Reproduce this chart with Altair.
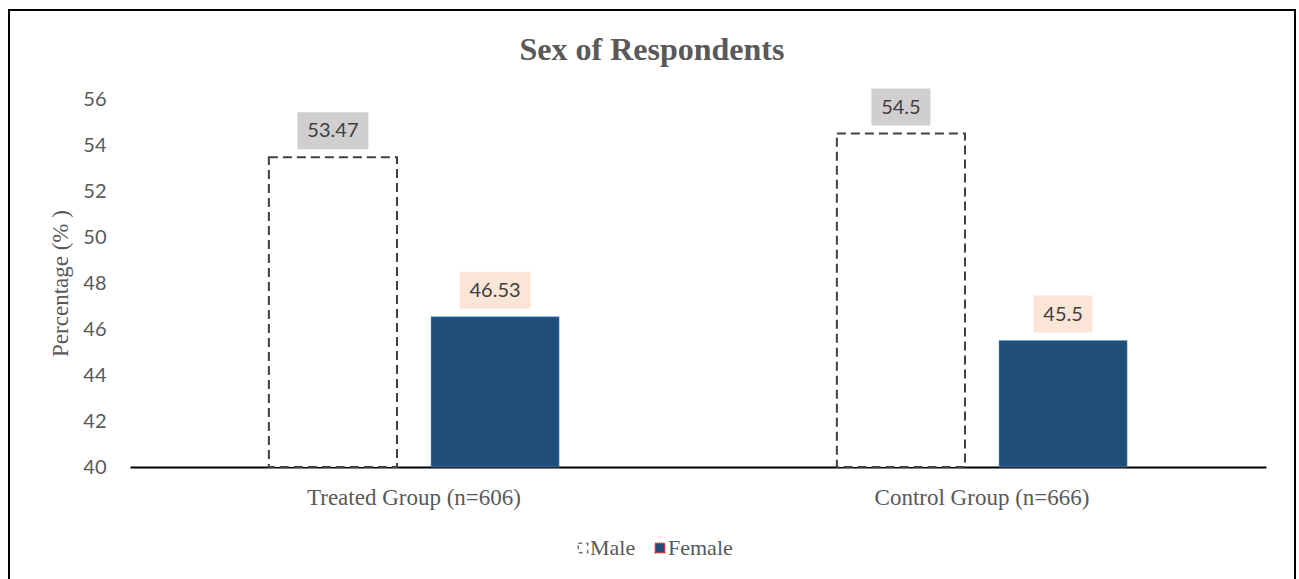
import altair as alt
import pandas as pd

groups = ["Treated Group (n=606)", "Control Group (n=666)"]
sexes = ["Male", "Female"]
male_values = [53.47, 54.5]
female_values = [46.53, 45.5]
y_ticks = [40, 42, 44, 46, 48, 50, 52, 54, 56]

rows = []
for g, m, f in zip(groups, male_values, female_values):
    rows.append({"group": g, "sex": "Male", "value": m, "label": f"{m:g}"})
    rows.append({"group": g, "sex": "Female", "value": f, "label": f"{f:g}"})
df = pd.DataFrame(rows)

W, H = 1136, 368
TXT = "#595959"
SERIF = "Liberation Serif"
SANS = "Lato"

xenc = alt.X("group:N", sort=groups,
             scale=alt.Scale(paddingInner=0.489, paddingOuter=0.2445),
             axis=alt.Axis(title=None, labelAngle=0, ticks=False, domain=True,
                           domainColor="black", domainWidth=2, labelLimit=600,
                           labelFont=SERIF, labelFontSize=23, labelColor=TXT,
                           labelPadding=19))
xoff = alt.XOffset("sex:N", sort=sexes, scale=alt.Scale(paddingInner=0.21, paddingOuter=0))
yenc = alt.Y("value:Q", scale=alt.Scale(domain=[40, 56], zero=False, nice=False),
             axis=alt.Axis(title="Percentage (% )", values=y_ticks, grid=False,
                           domain=False, ticks=False, labelFont=SANS,
                           labelFontSize=20, labelColor=TXT, labelPadding=24,
                           titleFont=SERIF, titleFontSize=23, titleFontWeight="normal",
                           titleColor=TXT, titlePadding=10))

base = alt.Chart(df)

male = base.transform_filter(alt.datum.sex == "Male").mark_bar(
    fill="white", stroke="#404040", strokeWidth=2, strokeDash=[9, 5]
).encode(x=xenc, xOffset=xoff, y=yenc, y2=alt.datum(40))

female = base.transform_filter(alt.datum.sex == "Female").mark_bar(
    fill="#1f4e79", stroke="#5b9bd5", strokeWidth=1, strokeDash=[1, 1]
).encode(x=xenc, xOffset=xoff, y=yenc, y2=alt.datum(40))

boxes = base.transform_calculate(
    boxw="length(datum.label) * 12 + 11"
).mark_bar(yOffset=-45, y2Offset=-8).encode(
    x=xenc, xOffset=xoff, y=yenc, y2="value:Q",
    size=alt.Size("boxw:Q", scale=None, legend=None),
    fill=alt.Fill("sex:N", scale=alt.Scale(domain=sexes, range=["#d0cece", "#fbe5d6"]), legend=None),
)

labels = base.mark_text(yOffset=-26, baseline="middle", align="center",
                        font=SANS, fontSize=20, color="#404040").encode(
    x=xenc, xOffset=xoff, y=yenc, text="label:N")

one = pd.DataFrame({"k": [0]})
single = alt.Chart(one)

title = single.mark_text(text="Sex of Respondents", font=SERIF, fontSize=32,
                         fontWeight="bold", color=TXT, baseline="middle",
                         align="center").encode(x=alt.value(522), y=alt.value(-49))

frame = single.mark_rect(fillOpacity=0, stroke="black", strokeWidth=2).encode(
    x=alt.value(-121), x2=alt.value(1165), y=alt.value(-89), y2=alt.value(500))

leg_male = single.mark_point(shape="square", size=90, filled=False, fill="white",
                             stroke="#404040", strokeWidth=1.5, strokeDash=[4, 4]).encode(
    x=alt.value(453), y=alt.value(449))
leg_female = single.mark_point(shape="square", size=90, fill="#1f4e79", fillOpacity=1,
                               filled=True, stroke="red", strokeWidth=1.5,
                               strokeDash=[1, 1]).encode(
    x=alt.value(530), y=alt.value(449))
leg_t1 = single.mark_text(text=sexes[0], font=SERIF, fontSize=22, color=TXT,
                          align="left", baseline="middle").encode(
    x=alt.value(460), y=alt.value(449))
leg_t2 = single.mark_text(text=sexes[1], font=SERIF, fontSize=22, color=TXT,
                          align="left", baseline="middle").encode(
    x=alt.value(538), y=alt.value(449))

chart = alt.layer(
    frame, male, female, boxes, labels, title,
    leg_male, leg_female, leg_t1, leg_t2
).properties(
    width=W, height=H,
    background="white",
    autosize=alt.AutoSizeParams(type="none"),
    padding={"left": 130, "top": 99, "right": 33, "bottom": 112},
).configure_view(strokeWidth=0, stroke="transparent")

chart.save("out.html", embed_options={"renderer": "svg", "actions": False})
